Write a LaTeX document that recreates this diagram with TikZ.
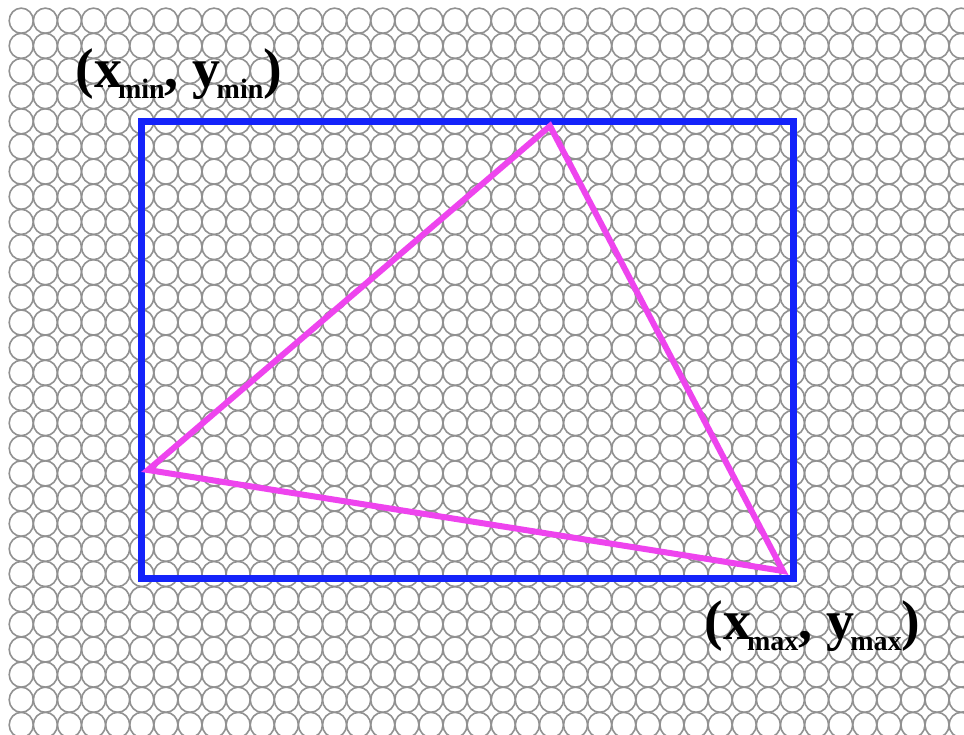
\documentclass[tikz,border=0pt]{standalone}
\usepackage{fontspec}
\setmainfont{Liberation Serif}
\definecolor{boxblue}{RGB}{20,35,250}
\definecolor{trimag}{RGB}{238,68,238}
\definecolor{dotgray}{RGB}{145,145,145}
\newcommand\lowsub[1]{\hspace{-2pt}\raisebox{-5.5pt}{\fontsize{14}{14}\selectfont #1}}

\begin{document}
\begin{tikzpicture}[x=0.5pt, y=-0.5pt,
  cell/.style={draw=dotgray, line width=0.8pt},
  bbox/.style={draw=boxblue, line width=3.5pt},
  tri/.style={draw=trimag, line width=3pt},
  corner/.style={font=\fontsize{28}{32}\selectfont\bfseries, inner sep=0pt, anchor=base west}]
\useasboundingbox (0,0) rectangle (964,734);
\fill[white] (0,0) rectangle (964,734);
% background cells
\begin{scope}
\clip (0,0) rectangle (964,734);
\foreach \i in {0,...,40}
  \foreach \j in {0,...,29}
    \draw[cell] ({21.25+24.1*\i},{20.7+25.15*\j}) ellipse [x radius=12.05, y radius=12.575];
\end{scope}
% bounding box
\coordinate (minpt) at (141.5,121);
\coordinate (maxpt) at (793,578);
\draw[bbox] (minpt) rectangle (maxpt);
% triangle
\coordinate (apex) at (550,126);
\coordinate (west) at (148,470);
\coordinate (east) at (783,571);
\draw[tri] (apex) -- (west) -- (east) -- cycle;
% labels
\node[corner] (minlabel) at (75,87) {(x\lowsub{min}, y\lowsub{min})};
\node[corner] (maxlabel) at (704,639) {(x\lowsub{max}, y\lowsub{max})};
\end{tikzpicture}
\end{document}
